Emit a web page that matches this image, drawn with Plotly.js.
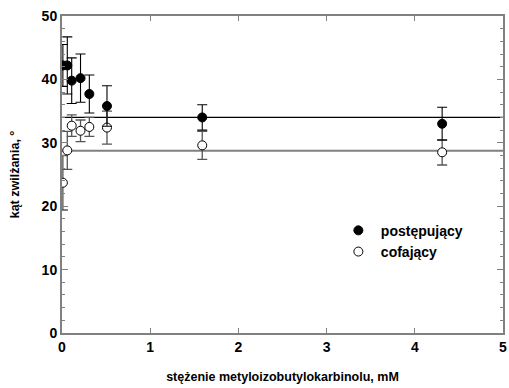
<!DOCTYPE html>
<html>
<head>
<meta charset="utf-8">
<script src="https://cdn.plot.ly/plotly-3.0.1.min.js"></script>
<style>html,body{margin:0;padding:0;background:#fff;}#chart{width:509px;height:388px;}</style>
</head>
<body>
<div id="chart"></div>
<script>
// advancing (postępujący)
var advX = [0.01, 0.06, 0.11, 0.21, 0.31, 0.51, 1.59, 4.31];
var advY = [42.2, 42.2, 39.8, 40.2, 37.7, 35.8, 34.0, 33.0];
var advErr = [3.3, 4.5, 3.6, 3.8, 3.0, 3.2, 2.0, 2.6];
// receding (cofający)
var recX = [0.01, 0.06, 0.11, 0.21, 0.31, 0.51, 1.59, 4.31];
var recY = [23.7, 28.8, 32.7, 31.9, 32.5, 32.4, 29.6, 28.5];
var recErr = [4.3, 3.0, 1.7, 1.7, 1.5, 2.6, 2.2, 2.0];
// reference levels
var lineX = [0, 5];
var advLevel = 34.0;
var recLevel = 28.75;
var xTicks = [0, 1, 2, 3, 4, 5];
var yTicks = [0, 10, 20, 30, 40, 50];

var F = '"Liberation Sans", Arial, sans-serif';
var traces = [
  {x: lineX, y: [advLevel, advLevel], mode: 'lines', line: {color: '#000', width: 1.3}, showlegend: false, hoverinfo: 'skip'},
  {x: lineX, y: [recLevel, recLevel], mode: 'lines', line: {color: '#808080', width: 2}, showlegend: false, hoverinfo: 'skip'},
  {x: recX, y: recY, name: 'cofający', mode: 'markers', type: 'scatter',
   marker: {symbol: 'circle', size: 9, color: '#fff', line: {color: '#000', width: 1}},
   error_y: {type: 'data', array: recErr, visible: true, color: '#555', thickness: 1.3, width: 5}},
  {x: advX, y: advY, name: 'postępujący', mode: 'markers', type: 'scatter',
   marker: {symbol: 'circle', size: 9, color: '#000', line: {color: '#000', width: 1}},
   error_y: {type: 'data', array: advErr, visible: true, color: '#000', thickness: 1.1, width: 5}}
];

var layout = {
  width: 509, height: 388,
  margin: {l: 62, r: 6, t: 16, b: 55},
  paper_bgcolor: '#fff', plot_bgcolor: '#fff',
  font: {family: F, color: '#000', weight: 700},
  showlegend: true,
  legend: {x: 0.621, y: 0.373, xanchor: 'left', yanchor: 'top', traceorder: 'reversed',
           font: {family: F, size: 14, color: '#000', weight: 700}, bgcolor: 'rgba(0,0,0,0)',
           itemwidth: 35, tracegroupgap: 0},
  xaxis: {range: [0, 5], tickvals: xTicks, ticktext: xTicks.map(String),
          ticks: 'inside', ticklen: 5, tickcolor: '#808080', tickwidth: 1,
          showline: true, linecolor: '#808080', linewidth: 2, mirror: 'ticks',
          showgrid: false, zeroline: false,
          tickfont: {family: F, size: 14, weight: 700},
          title: {text: 'stężenie metyloizobutylokarbinolu, mM', font: {family: F, size: 12.5, weight: 700}, standoff: 18}},
  yaxis: {range: [0, 50], tickvals: yTicks, ticktext: yTicks.map(String),
          ticks: 'inside', ticklen: 6, tickcolor: '#808080', tickwidth: 1,
          minor: {dtick: 2, ticks: 'inside', ticklen: 3, tickcolor: '#808080', showgrid: false},
          showline: true, linecolor: '#808080', linewidth: 2, mirror: 'ticks',
          showgrid: false, zeroline: false,
          tickfont: {family: F, size: 14, weight: 700},
          title: {text: 'kąt zwilżania, °', font: {family: F, size: 12.5, weight: 700}, standoff: 19}}
};
Plotly.newPlot('chart', traces, layout, {displayModeBar: false, staticPlot: true});
</script>
</body>
</html>
